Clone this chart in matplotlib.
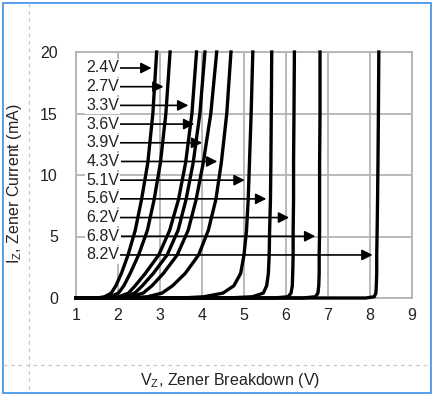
import matplotlib

matplotlib.use("Agg")
import matplotlib.pyplot as plt
import numpy as np
from matplotlib.lines import Line2D
from matplotlib.patches import Rectangle

plt.rcParams["font.family"] = ["Liberation Sans", "DejaVu Sans"]
plt.rcParams["mathtext.default"] = "regular"

iz_ma = [0, 0, 0.1, 0.4, 1.0, 2.0, 3.5, 5.5, 8, 11, 15, 20]

# zener voltage (V) at those currents, one list per part
vz_2v4 = [1.0, 1.50, 1.68, 1.84, 1.95, 2.08, 2.24, 2.41, 2.56, 2.71, 2.83, 2.92]
vz_2v7 = [1.0, 1.60, 1.82, 2.01, 2.14, 2.29, 2.49, 2.70, 2.86, 3.01, 3.14, 3.24]
vz_3v3 = [1.0, 1.75, 2.02, 2.25, 2.41, 2.65, 2.97, 3.23, 3.44, 3.61, 3.76, 3.87]
vz_3v6 = [1.0, 1.85, 2.15, 2.40, 2.58, 2.84, 3.17, 3.43, 3.62, 3.79, 3.95, 4.07]
vz_3v9 = [1.0, 1.95, 2.30, 2.60, 2.81, 3.08, 3.41, 3.67, 3.86, 4.03, 4.21, 4.35]
vz_4v3 = [1.0, 2.20, 2.70, 3.05, 3.30, 3.60, 3.92, 4.15, 4.33, 4.46, 4.59, 4.69]
vz_5v1 = [1.0, 3.50, 4.05, 4.50, 4.76, 4.92, 5.00, 5.06, 5.10, 5.13, 5.17, 5.21]
vz_5v6 = [1.0, 4.60, 5.20, 5.46, 5.54, 5.58, 5.60, 5.61, 5.63, 5.64, 5.65, 5.66]
vz_6v2 = [1.0, 5.70, 6.05, 6.12, 6.15, 6.16, 6.17, 6.17, 6.18, 6.18, 6.19, 6.20]
vz_6v8 = [1.0, 6.40, 6.70, 6.76, 6.78, 6.79, 6.79, 6.80, 6.80, 6.80, 6.81, 6.81]
vz_8v2 = [1.0, 7.90, 8.10, 8.14, 8.15, 8.16, 8.16, 8.17, 8.18, 8.19, 8.20, 8.21]

part_labels = ["2.4V", "2.7V", "3.3V", "3.6V", "3.9V", "4.3V",
               "5.1V", "5.6V", "6.2V", "6.8V", "8.2V"]
curves = [vz_2v4, vz_2v7, vz_3v3, vz_3v6, vz_3v9, vz_4v3,
          vz_5v1, vz_5v6, vz_6v2, vz_6v8, vz_8v2]

x_ticks = [1, 2, 3, 4, 5, 6, 7, 8, 9]
y_ticks = [0, 5, 10, 15, 20]

W, H = 435, 398
fig = plt.figure(figsize=(W / 100, H / 100), dpi=100)
ax = fig.add_axes([76 / W, 1 - 298 / H, 336 / W, 246 / H])

grid_c = "#b4b4b4"
ax.set_xlim(1, 9)
ax.set_ylim(0, 20)
ax.set_xticks(x_ticks)
ax.set_yticks(y_ticks)
ax.grid(True, color=grid_c, linewidth=1.3, zorder=0)
ax.set_axisbelow(True)
for s in ax.spines.values():
    s.set_color(grid_c)
    s.set_linewidth(1.3)
ax.tick_params(length=0, labelsize=11.5, colors="#222222")
ax.tick_params(axis="x", pad=7)
ax.tick_params(axis="y", pad=13)

for vz in curves:
    ax.plot(vz, iz_ma, color="black", linewidth=2.4, solid_joinstyle="round",
            clip_on=False, zorder=4)

# labels stacked down the left side, arrows pointing at each curve
label_top, label_step = 18.7, 1.52
for k, (name, vz) in enumerate(zip(part_labels, curves)):
    y = label_top - k * label_step
    xv = np.interp(y, iz_ma[1:], vz[1:])
    ax.annotate(name, xy=(xv, y), xytext=(1.25, y), ha="left", va="center",
                fontsize=11.5, color="#222222", zorder=3,
                bbox=dict(facecolor="white", edgecolor="none", pad=0.8),
                arrowprops=dict(arrowstyle="-|>,head_length=0.55,head_width=0.28",
                                color="black", linewidth=1.2, shrinkA=0, shrinkB=3))

fig.text(230 / W, 1 - 380 / H, r"V$_{Z}$, Zener Breakdown (V)", ha="center",
         va="center", fontsize=11.5, color="#222222")
fig.text(15 / W, 1 - 184 / H, r"I$_{Z}$, Zener Current (mA)", ha="center",
         va="center", rotation=90, fontsize=11.5, color="#222222")

# frame decorations
dash = dict(color="#c8c8c8", linewidth=0.9, linestyle=(0, (3, 3)))
fig.add_artist(Line2D([28.5 / W, 28.5 / W], [1 - 3 / H, 1 - 393 / H], **dash))
fig.add_artist(Line2D([3 / W, 431 / W], [1 - 365 / H, 1 - 365 / H], **dash))
fig.add_artist(Rectangle((3 / W, 1 - 393 / H), 428 / W, 390 / H, fill=False,
                         edgecolor="#3a8ee6", linewidth=1.2))

fig.savefig("out.png", dpi=100)
